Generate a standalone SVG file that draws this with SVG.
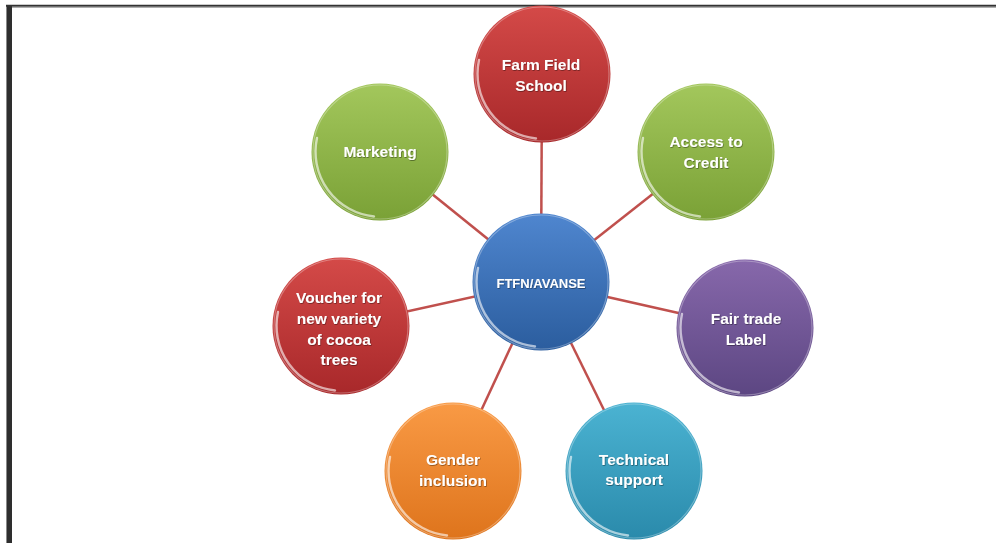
<svg xmlns="http://www.w3.org/2000/svg" xmlns:xlink="http://www.w3.org/1999/xlink" width="996" height="543" viewBox="0 0 996 543">
<defs>
<style>
.lbl{font-family:"Liberation Sans",Arial,sans-serif;font-weight:bold;font-size:15.5px;fill:#ffffff;text-anchor:middle;filter:url(#ts)}
.ctr{font-size:13px}
.conn line{stroke:#c0504d;stroke-width:2.5}
.hl{fill:none;stroke:#ffffff;stroke-width:2.4;stroke-opacity:0.6;stroke-linecap:round;filter:url(#soft)}
.rim{fill:none;stroke:#ffffff;stroke-width:1.2;stroke-opacity:0.3}
</style>
<filter id="ts" x="-10%" y="-30%" width="120%" height="160%">
<feDropShadow dx="0.6" dy="0.8" stdDeviation="0.5" flood-color="#000" flood-opacity="0.45"/>
</filter>
<filter id="soft" x="-20%" y="-20%" width="140%" height="140%"><feGaussianBlur stdDeviation="0.7"/></filter>
<linearGradient id="gRed" x1="0" y1="0" x2="0" y2="1"><stop offset="0" stop-color="#d44a48"/><stop offset="1" stop-color="#a8282a"/></linearGradient>
<linearGradient id="gGreen" x1="0" y1="0" x2="0" y2="1"><stop offset="0" stop-color="#a3c75c"/><stop offset="1" stop-color="#7aa136"/></linearGradient>
<linearGradient id="gBlue" x1="0" y1="0" x2="0" y2="1"><stop offset="0" stop-color="#4f86cf"/><stop offset="1" stop-color="#2b5d9e"/></linearGradient>
<linearGradient id="gPurple" x1="0" y1="0" x2="0" y2="1"><stop offset="0" stop-color="#8768ab"/><stop offset="1" stop-color="#5c4682"/></linearGradient>
<linearGradient id="gOrange" x1="0" y1="0" x2="0" y2="1"><stop offset="0" stop-color="#f99a45"/><stop offset="1" stop-color="#de741c"/></linearGradient>
<linearGradient id="gTeal" x1="0" y1="0" x2="0" y2="1"><stop offset="0" stop-color="#4bb3d2"/><stop offset="1" stop-color="#2a8aab"/></linearGradient>
<path id="hl" class="hl" d="M -63 -14 A 65 65 0 0 0 -6 64.5"/>
<circle id="rim" class="rim" r="67"/>
</defs>
<rect width="996" height="543" fill="#ffffff"/>
<rect x="6" y="5" width="6" height="538" fill="#2e2e2e"/>
<line x1="6.5" y1="5" x2="6.5" y2="543" stroke="#8a8a8a" stroke-width="1"/>
<line x1="6" y1="5.8" x2="996" y2="5.8" stroke="#333333" stroke-width="2"/>
<line x1="12" y1="7.3" x2="996" y2="7.3" stroke="#9a9a9a" stroke-width="1"/>

<g id="connectors" class="conn">
<line x1="541" y1="282" x2="542" y2="74"/>
<line x1="541" y1="282" x2="706" y2="152"/>
<line x1="541" y1="282" x2="380" y2="152"/>
<line x1="541" y1="282" x2="745" y2="328"/>
<line x1="541" y1="282" x2="341" y2="326"/>
<line x1="541" y1="282" x2="453" y2="471"/>
<line x1="541" y1="282" x2="634" y2="471"/>
</g>

<g id="farm-field-school" transform="translate(542,74)">
<circle r="68.5" fill="url(#gRed)"/><use xlink:href="#rim"/><use xlink:href="#hl"/>
<text class="lbl" x="-1" y="-4">Farm Field</text>
<text class="lbl" x="-1" y="17">School</text>
</g>
<g id="access-to-credit" transform="translate(706,152)">
<circle r="68.5" fill="url(#gGreen)"/><use xlink:href="#rim"/><use xlink:href="#hl"/>
<text class="lbl" x="0" y="-5">Access to</text>
<text class="lbl" x="0" y="16">Credit</text>
</g>
<g id="marketing" transform="translate(380,152)">
<circle r="68.5" fill="url(#gGreen)"/><use xlink:href="#rim"/><use xlink:href="#hl"/>
<text class="lbl" x="0" y="5">Marketing</text>
</g>
<g id="ftfn-avanse" transform="translate(541,282)">
<circle r="68.5" fill="url(#gBlue)"/><use xlink:href="#rim"/><use xlink:href="#hl"/>
<text class="lbl ctr" x="0" y="6">FTFN/AVANSE</text>
</g>
<g id="fair-trade-label" transform="translate(745,328)">
<circle r="68.5" fill="url(#gPurple)"/><use xlink:href="#rim"/><use xlink:href="#hl"/>
<text class="lbl" x="1" y="-4">Fair trade</text>
<text class="lbl" x="1" y="17">Label</text>
</g>
<g id="voucher" transform="translate(341,326)">
<circle r="68.5" fill="url(#gRed)"/><use xlink:href="#rim"/><use xlink:href="#hl"/>
<text class="lbl" x="-2" y="-23">Voucher for</text>
<text class="lbl" x="-2" y="-2">new variety</text>
<text class="lbl" x="-2" y="19">of cocoa</text>
<text class="lbl" x="-2" y="39">trees</text>
</g>
<g id="gender-inclusion" transform="translate(453,471)">
<circle r="68.5" fill="url(#gOrange)"/><use xlink:href="#rim"/><use xlink:href="#hl"/>
<text class="lbl" x="0" y="-6">Gender</text>
<text class="lbl" x="0" y="15">inclusion</text>
</g>
<g id="technical-support" transform="translate(634,471)">
<circle r="68.5" fill="url(#gTeal)"/><use xlink:href="#rim"/><use xlink:href="#hl"/>
<text class="lbl" x="0" y="-6">Technical</text>
<text class="lbl" x="0" y="14">support</text>
</g>
</svg>
